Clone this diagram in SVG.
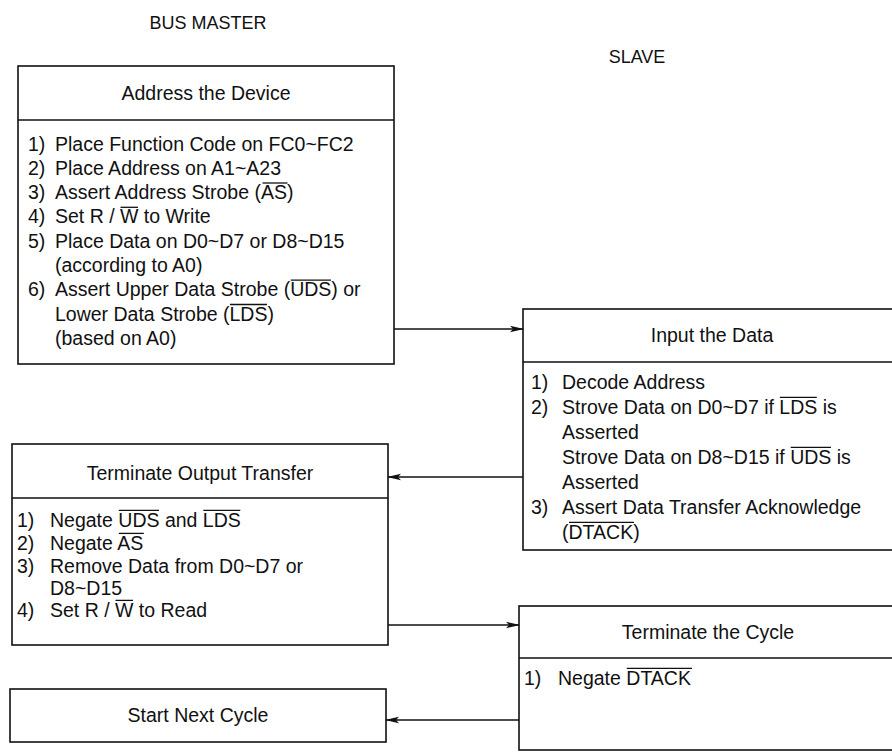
<svg xmlns="http://www.w3.org/2000/svg" width="892" height="754" viewBox="0 0 892 754">
<defs>
<style>
.box{fill:none;stroke:#111;stroke-width:1.6}
.div{stroke:#111;stroke-width:1.6}
.t{font-family:"Liberation Sans",Arial,sans-serif;font-size:19.5px;fill:#111}
.h{font-size:18px}
.c{text-anchor:middle}
.ol{stroke:#111;stroke-width:1.3}
.conn{stroke:#111;stroke-width:1.6;fill:none;marker-end:url(#ah)}
</style>
<marker id="ah" markerWidth="14" markerHeight="8" refX="13" refY="4" orient="auto" markerUnits="userSpaceOnUse">
<path d="M0,0.8 L14,4 L0,7.2 L3,4 Z" fill="#111"/>
</marker>
</defs>
<rect width="892" height="754" fill="#fff"/>

<g id="lanes" class="t">
<text class="c h" x="208" y="29">BUS MASTER</text>
<text class="c h" x="637" y="63">SLAVE</text>
</g>

<g id="address-device" class="t">
<rect class="box" x="18" y="66" width="376" height="298"/>
<line class="div" x1="18" y1="120" x2="394" y2="120"/>
<text class="c" x="206" y="99.5">Address the Device</text>
<text x="28" y="150.5">1)</text><text x="55" y="150.5">Place Function Code on FC0~FC2</text>
<text x="28" y="174.8">2)</text><text x="55" y="174.8">Place Address on A1~A23</text>
<text x="28" y="199.1">3)</text><text x="55" y="199.1">Assert Address Strobe (AS)</text>
<line class="ol" x1="262.5" y1="183" x2="287.5" y2="183"/>
<text x="28" y="223.4">4)</text><text x="55" y="223.4">Set R / W to Write</text>
<line class="ol" x1="120.5" y1="207.3" x2="138" y2="207.3"/>
<text x="28" y="247.7">5)</text><text x="55" y="247.7">Place Data on D0~D7 or D8~D15</text>
<text x="55" y="272">(according to A0)</text>
<text x="28" y="296.3">6)</text><text x="55" y="296.3">Assert Upper Data Strobe (UDS) or</text>
<line class="ol" x1="290.7" y1="280.2" x2="331" y2="280.2"/>
<text x="55" y="320.6">Lower Data Strobe (LDS)</text>
<line class="ol" x1="230" y1="304.5" x2="267" y2="304.5"/>
<text x="55" y="344.9">(based on A0)</text>
</g>

<g id="input-data" class="t">
<rect class="box" x="523" y="309" width="380" height="241"/>
<line class="div" x1="523" y1="362" x2="903" y2="362"/>
<text class="c" x="712" y="342">Input the Data</text>
<text x="531" y="388.5">1)</text><text x="562" y="388.5">Decode Address</text>
<text x="531" y="413.5">2)</text><text x="562" y="413.5">Strove Data on D0~D7 if LDS is</text>
<line class="ol" x1="779.8" y1="397.4" x2="816.8" y2="397.4"/>
<text x="562" y="438.5">Asserted</text>
<text x="562" y="463.5">Strove Data on D8~D15 if UDS is</text>
<line class="ol" x1="790.7" y1="447.4" x2="831" y2="447.4"/>
<text x="562" y="488.5">Asserted</text>
<text x="531" y="513.5">3)</text><text x="562" y="513.5">Assert Data Transfer Acknowledge</text>
<text x="562" y="538.5">(DTACK)</text>
<line class="ol" x1="569" y1="522.4" x2="634" y2="522.4"/>
</g>

<g id="terminate-output" class="t">
<rect class="box" x="12" y="444" width="376" height="201"/>
<line class="div" x1="12" y1="498" x2="388" y2="498"/>
<text class="c" x="200" y="479.5">Terminate Output Transfer</text>
<text x="17" y="526.5">1)</text><text x="50" y="526.5">Negate UDS and LDS</text>
<line class="ol" x1="118.8" y1="510.4" x2="159" y2="510.4"/>
<line class="ol" x1="203.3" y1="510.4" x2="240.3" y2="510.4"/>
<text x="17" y="549.5">2)</text><text x="50" y="549.5">Negate AS</text>
<line class="ol" x1="118.8" y1="533.4" x2="143.8" y2="533.4"/>
<text x="17" y="572.5">3)</text><text x="50" y="572.5">Remove Data from D0~D7 or</text>
<text x="50" y="594.5">D8~D15</text>
<text x="17" y="616.5">4)</text><text x="50" y="616.5">Set R / W to Read</text>
<line class="ol" x1="115.5" y1="600.4" x2="133" y2="600.4"/>
</g>

<g id="terminate-cycle" class="t">
<rect class="box" x="519" y="606" width="380" height="144"/>
<line class="div" x1="519" y1="658" x2="899" y2="658"/>
<text class="c" x="708" y="638.5">Terminate the Cycle</text>
<text x="524" y="684.5">1)</text><text x="558" y="684.5">Negate DTACK</text>
<line class="ol" x1="626.8" y1="668.4" x2="692" y2="668.4"/>
</g>

<g id="start-next" class="t">
<rect class="box" x="10" y="689" width="376" height="53"/>
<text class="c" x="198" y="722">Start Next Cycle</text>
</g>

<g id="connectors">
<path class="conn" d="M394,329 H523"/>
<path class="conn" d="M523,477 H388"/>
<path class="conn" d="M388,625 H519"/>
<path class="conn" d="M519,720 H386"/>
</g>
</svg>
